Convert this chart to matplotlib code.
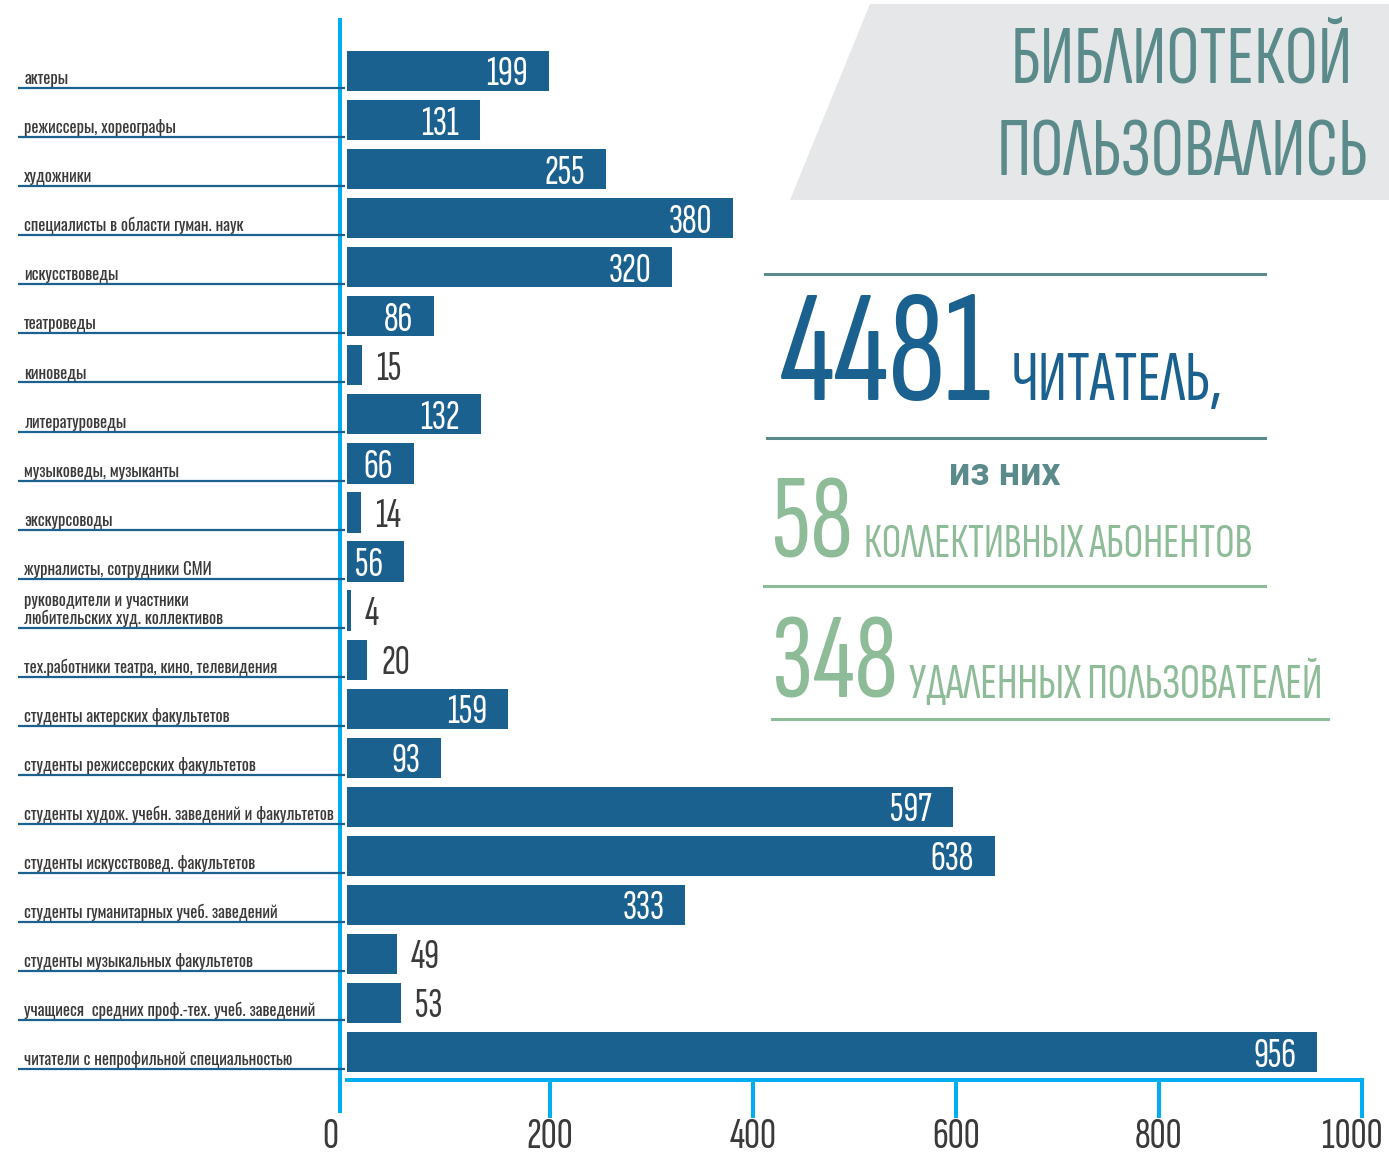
import matplotlib
matplotlib.use("Agg")
import matplotlib.pyplot as plt
from matplotlib.patches import Polygon
from matplotlib.transforms import ScaledTranslation

W, H = 1389, 1159

categories = [
    "актеры",
    "режиссеры, хореографы",
    "художники",
    "специалисты в области гуман. наук",
    "искусствоведы",
    "театроведы",
    "киноведы",
    "литературоведы",
    "музыковеды, музыканты",
    "экскурсоводы",
    "журналисты, сотрудники СМИ",
    "руководители и участники\nлюбительских худ. коллективов",
    "тех.работники театра, кино, телевидения",
    "студенты актерских факультетов",
    "студенты режиссерских факультетов",
    "студенты худож. учебн. заведений и факультетов",
    "студенты искусствовед. факультетов",
    "студенты гуманитарных учеб. заведений",
    "студенты музыкальных факультетов",
    "учащиеся  средних проф.-тех. учеб. заведений",
    "читатели с непрофильной специальностью",
]
values = [199, 131, 255, 380, 320, 86, 15, 132, 66, 14, 56, 4, 20, 159, 93, 597, 638, 333, 49, 53, 956]
xticks = [200, 400, 600, 800, 1000]

title_lines = ["БИБЛИОТЕКОЙ", "ПОЛЬЗОВАЛИСЬ"]
total_readers = "4481"
total_word = "ЧИТАТЕЛЬ,"
of_them = "из них"
collective = "58"
collective_word = "КОЛЛЕКТИВНЫХ АБОНЕНТОВ"
remote = "348"
remote_word = "УДАЛЕННЫХ ПОЛЬЗОВАТЕЛЕЙ"

BAR = "#1b6190"
CYAN = "#00aeef"
TEAL = "#5b8a8a"
GREEN = "#8fbc98"
GREY_TXT = "#3a3a3a"
PANEL = "#e6e7e8"
COND = ["Sofia Sans Extra Condensed", "DejaVu Sans"]
LABEL_FONT = ["Oswald", "Roboto Condensed", "DejaVu Sans"]


def main():
    fig = plt.figure(figsize=(W / 100, H / 100), dpi=100)

    # overlay in pixel coordinates for the decorative block
    ov = fig.add_axes([0, 0, 1, 1], zorder=0)
    ov.set_xlim(0, W); ov.set_ylim(H, 0); ov.axis("off")

    ov.add_patch(Polygon([(790, 200), (870, 4), (W, 4), (W, 200)], closed=True,
                         facecolor=PANEL, edgecolor="none"))
    for txt, yb in zip(title_lines, (83, 176)):
        ov.text(1182, yb, txt, ha="center", va="baseline", color=TEAL,
                fontsize=60, family=COND)

    ov.plot([340, 340], [18, 1113], color=CYAN, lw=2.9, solid_capstyle="butt")

    ov.plot([765, 1265], [274, 274], color=TEAL, lw=2.2)
    ov.plot([767, 1265], [438, 438], color=TEAL, lw=2.2)
    ov.plot([764, 1265], [586, 586], color=GREEN, lw=2.2)
    ov.plot([772, 1328], [719, 719], color=GREEN, lw=2.2)

    t = ov.text(780, 400, total_readers, ha="left", va="baseline", color=BAR,
                fontsize=116, family=COND)
    ov.annotate(total_word, xy=(1, 400), xycoords=(t, "data"), xytext=(14, 0),
                textcoords="offset points", ha="left", va="baseline", color=BAR,
                fontsize=51, family=COND)
    ov.text(1005, 485, of_them, ha="center", va="baseline", color=TEAL,
            fontsize=27, fontweight="bold", family=["Roboto", "DejaVu Sans"])
    t = ov.text(772, 557, collective, ha="left", va="baseline", color=GREEN,
                fontsize=86, family=COND)
    ov.annotate(collective_word, xy=(1, 557), xycoords=(t, "data"), xytext=(8, 0),
                textcoords="offset points", ha="left", va="baseline", color=GREEN,
                fontsize=35, family=COND)
    t = ov.text(772, 698, remote, ha="left", va="baseline", color=GREEN,
                fontsize=88, family=COND)
    ov.annotate(remote_word, xy=(1, 698), xycoords=(t, "data"), xytext=(8, 0),
                textcoords="offset points", ha="left", va="baseline", color=GREEN,
                fontsize=36, family=COND)

    # bar chart
    left, right, top, bottom = 347, 1362, 18, 1080
    ax = fig.add_axes([left / W, 1 - bottom / H, (right - left) / W, (bottom - top) / H], zorder=1)
    ax.patch.set_alpha(0)
    y = list(range(len(values)))
    ax.barh(y, values, height=0.82, color=BAR)
    ax.set_xlim(0, 1000)
    ax.set_ylim(20.57, -1.08)

    ax.hlines([i + 0.35 for i in y], -0.324, -0.002, transform=ax.get_yaxis_transform(),
              color=BAR, lw=1.6, clip_on=False)
    for i, (cat, v) in enumerate(zip(categories, values)):
        ax.text(-0.318, i + 0.27, cat, transform=ax.get_yaxis_transform(), ha="left",
                va="baseline", fontsize=12, color=GREY_TXT, family=LABEL_FONT, linespacing=1.0)
        if v > 55:
            ax.annotate(str(v), (v, i), xytext=(-15, 0), textcoords="offset points",
                        ha="right", va="center_baseline", color="white", fontsize=30, family=COND)
        else:
            ax.annotate(str(v), (v, i), xytext=(10, 0), textcoords="offset points",
                        ha="left", va="center_baseline", color=GREY_TXT, fontsize=30, family=COND)

    for s in ("top", "right", "left"):
        ax.spines[s].set_visible(False)
    ax.spines["bottom"].set_color(CYAN)
    ax.spines["bottom"].set_linewidth(2.9)
    ax.set_yticks([])
    ax.set_xticks(xticks, labels=[str(v) for v in xticks])
    ax.set_xticks([0], labels=["0"], minor=True)
    ax.tick_params(axis="x", which="major", direction="out", length=27, width=2.9,
                   color=CYAN, pad=0, labelsize=32, labelcolor=GREY_TXT)
    ax.tick_params(axis="x", which="minor", length=0, pad=27, labelsize=32, labelcolor=GREY_TXT)
    for lab in ax.get_xticklabels(which="both"):
        lab.set_family(COND)
    # nudge "0" left onto the cyan line and keep "1000" inside the figure
    zero = ax.get_xticklabels(minor=True)[0]
    zero.set_transform(zero.get_transform() + ScaledTranslation(-0.17, 0, fig.dpi_scale_trans))
    last = ax.get_xticklabels()[-1]
    last.set_transform(last.get_transform() + ScaledTranslation(-0.10, 0, fig.dpi_scale_trans))

    fig.savefig("out.png", dpi=100)
    plt.close(fig)


if __name__ == "__main__":
    main()
